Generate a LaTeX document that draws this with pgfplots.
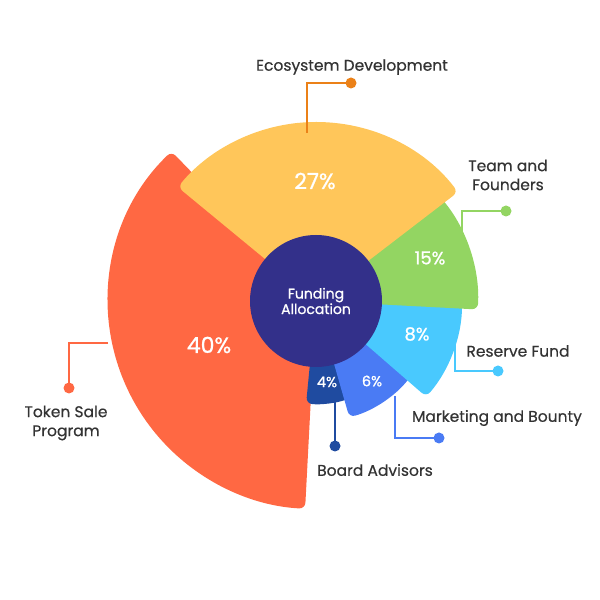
\documentclass[border=0pt]{standalone}
\usepackage{pgfplots}
\usepackage{pgfplotstable}
\pgfplotsset{compat=1.18}
\usepackage{fontspec}
\setmainfont{Poppins}
\newfontfamily\pmed[FakeBold=0.9]{Poppins}
\newfontfamily\plab[FakeBold=0.45]{Poppins}
\definecolor{ctoken}{RGB}{255,104,67}
\definecolor{ceco}{RGB}{255,198,90}
\definecolor{cecoline}{RGB}{235,129,24}
\definecolor{cteam}{RGB}{147,213,98}
\definecolor{creserve}{RGB}{73,201,254}
\definecolor{cmarket}{RGB}{74,123,244}
\definecolor{cboard}{RGB}{31,75,160}
\definecolor{ccenter}{RGB}{51,48,138}
\definecolor{ctext}{RGB}{51,51,51}

% slices: start angle, end angle, outer radius (pt = axis units), colour, share (%)
\pgfplotstableread{
start end r col pct
134 267 208 ctoken 40
264.5 290 103 cboard 4
286 322 121 cmarket 6
319 360 146 creserve 8
357 400 162 cteam 15
37.5 140.5 179 ceco 27
}\slices

\begin{document}
\begin{tikzpicture}
\begin{axis}[
  width=600pt, height=600pt, scale only axis,
  xmin=0, xmax=600, ymin=0, ymax=600,
  hide axis, clip=false,
]
\pgfplotsinvokeforeach{0,...,5}{
  \pgfplotstablegetelem{#1}{start}\of\slices \let\sA\pgfplotsretval
  \pgfplotstablegetelem{#1}{end}\of\slices \let\eA\pgfplotsretval
  \pgfplotstablegetelem{#1}{r}\of\slices \let\rA\pgfplotsretval
  \pgfplotstablegetelem{#1}{col}\of\slices \let\cA\pgfplotsretval
  \edef\doslice{\noexpand\fill[\cA, rounded corners=6pt] (axis cs:316,299) -- ++(\sA:\rA pt) arc[start angle=\sA, end angle=\eA, radius=\rA pt] -- cycle;}
  \doslice
}
\fill[ccenter] (axis cs:316,299) circle[radius=66pt];
\node[white, align=center, font=\pmed\fontsize{14}{15.5}\selectfont] at (axis cs:316,299) {Funding\\Allocation};

% percentages
\node[white, font=\pmed\fontsize{22}{24}\selectfont] at (axis cs:315,419) {27\%};
\node[white, font=\pmed\fontsize{22}{24}\selectfont] at (axis cs:209,255) {40\%};
\node[white, font=\pmed\fontsize{18}{20}\selectfont] at (axis cs:430,342) {15\%};
\node[white, font=\pmed\fontsize{18}{20}\selectfont] at (axis cs:417,266) {8\%};
\node[white, font=\pmed\fontsize{14.5}{16}\selectfont] at (axis cs:372,219) {6\%};
\node[white, font=\pmed\fontsize{14.5}{16}\selectfont] at (axis cs:327,218) {4\%};

% leaders
\draw[cecoline, line width=2.4pt] (axis cs:307,467) -- (axis cs:307,517) -- (axis cs:351,517);
\fill[cecoline] (axis cs:351,517) circle[radius=5.5pt];
\draw[cteam, line width=2.4pt] (axis cs:462,364) -- (axis cs:462,389) -- (axis cs:506,389);
\fill[cteam] (axis cs:506,389) circle[radius=5.5pt];
\draw[creserve, line width=2.4pt] (axis cs:455,265) -- (axis cs:455,229) -- (axis cs:498,229);
\fill[creserve] (axis cs:498,229) circle[radius=5.5pt];
\draw[cmarket, line width=2.4pt] (axis cs:395,204) -- (axis cs:395,162) -- (axis cs:439,162);
\fill[cmarket] (axis cs:439,162) circle[radius=5.5pt];
\draw[cboard, line width=2.4pt] (axis cs:335,200) -- (axis cs:335,154);
\fill[cboard] (axis cs:335,154) circle[radius=5.5pt];
\draw[ctoken, line width=2.4pt] (axis cs:108,257) -- (axis cs:69,257) -- (axis cs:69,212);
\fill[ctoken] (axis cs:69,212) circle[radius=5.5pt];

% labels
\begin{scope}[every node/.style={ctext, align=center, font=\plab\fontsize{15.5}{19}\selectfont}]
\node at (axis cs:352,533) {Ecosystem Development};
\node at (axis cs:508,425) {Team and\\Founders};
\node at (axis cs:518,249) {Reserve Fund};
\node at (axis cs:497,182) {Marketing and Bounty};
\node at (axis cs:375,130) {Board Advisors};
\node at (axis cs:66,177) {Token Sale\\Program};
\end{scope}
\end{axis}
\pgfresetboundingbox
\useasboundingbox (0,0) rectangle (600pt,600pt);
\end{tikzpicture}
\end{document}
